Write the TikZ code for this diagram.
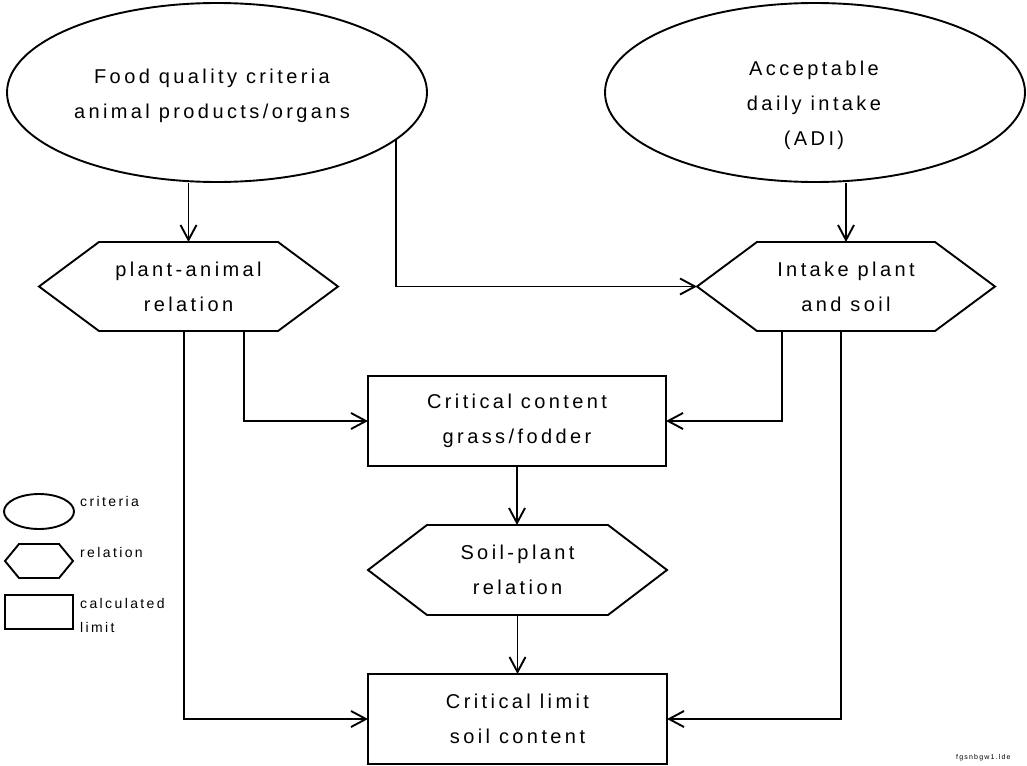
\documentclass[tikz,border=0pt]{standalone}
\usepackage{fontspec}
\setmainfont{Liberation Sans}
\newfontfamily\spacedfont[LetterSpace=17]{Liberation Sans}
\usetikzlibrary{arrows.meta,shapes.geometric}

\begin{document}
\begin{tikzpicture}[x=1pt,y=-1pt,
  outline/.style={draw=black, line width=1.9pt, line join=miter},
  txt/.style={font=\spacedfont\fontsize{20}{35}\selectfont, align=center, inner sep=0pt},
  legtxt/.style={font=\spacedfont\fontsize{14}{24}\selectfont, inner sep=0pt, anchor=base west},
  oval/.style 2 args={outline, ellipse, inner sep=0pt, minimum width=#1, minimum height=#2},
  boxnode/.style 2 args={outline, rectangle, txt, outer sep=0pt, minimum width=#1, minimum height=#2},
  hexnode/.style n args={3}{rectangle, txt, outer sep=0pt, minimum width=#1, minimum height=#2,
    append after command={\pgfextra{\draw[outline]
      ([xshift=#3]\tikzlastnode.north west) -- ([xshift=-#3]\tikzlastnode.north east)
      -- (\tikzlastnode.east) -- ([xshift=-#3]\tikzlastnode.south east)
      -- ([xshift=#3]\tikzlastnode.south west) -- (\tikzlastnode.west) -- cycle;}}},
  arrow/.style={line width=1.9pt, -{Straight Barb[length=15pt,width=16pt]}}
]
\useasboundingbox (0,0) rectangle (1027,765);

% criteria
\node[oval={420pt}{179pt}] (e1) at (217,92.5) {};
\node[txt] (e1t) at (212,95.8) {Food quality criteria\\animal products/organs};
\node[oval={420pt}{179pt}] (e2) at (815,92.5) {};
\node[txt] (e2t) at (814,105.8) {Acceptable\\daily intake\\(ADI)};

% relations and calculated limits
\node[hexnode={299pt}{89pt}{60pt}] (h1) at (188.5,286.5) {plant-animal\\relation};
\node[hexnode={298pt}{89pt}{60pt}] (h2) at (846,286.5) {Intake plant\\and soil};
\node[boxnode={298pt}{90pt}] (r1) at (517,421) {Critical content\\grass/fodder};
\node[hexnode={299pt}{90pt}{59pt}] (h3) at (517.5,570) {Soil-plant\\relation};
\node[boxnode={299pt}{90pt}] (r2) at (517.5,719) {Critical limit\\soil content};

% connectors
\draw[arrow] (h1.north |- e1.south) -- (h1.north);
\draw[arrow] (h2.north |- e2.south) -- (h2.north);
\draw[arrow] (e1.-15.2) |- (h2.west);
\draw[arrow] ([xshift=55.5pt]h1.south) |- (r1.west);
\draw[arrow] ([xshift=-4.5pt]h1.south) |- (r2.west);
\draw[arrow] ([xshift=-64pt]h2.south) |- (r1.east);
\draw[arrow] ([xshift=-5pt]h2.south) |- (r2.east);
\draw[arrow] (r1.south) -- (r1.south |- h3.north);
\draw[arrow] (h3.south) -- (h3.south |- r2.north);

% legend
\node[oval={70pt}{35pt}] (l1) at (39,511.5) {};
\node[hexnode={68pt}{34pt}{14pt}] (l2) at (39,561) {};
\node[boxnode={68pt}{34pt}] (l3) at (39,612) {};
\node[legtxt] (l1t) at (80,506) {criteria};
\node[legtxt] (l2t) at (80,557) {relation};
\node[legtxt] (l3t) at (80,608) {calculated};
\node[legtxt] (l3u) at (80,632) {limit};

% file tag
\node[anchor=base west, inner sep=0pt, font=\spacedfont\fontsize{7}{8}\selectfont] (tag) at (956,759) {fgsnbgw1.lde};
\end{tikzpicture}
\end{document}
